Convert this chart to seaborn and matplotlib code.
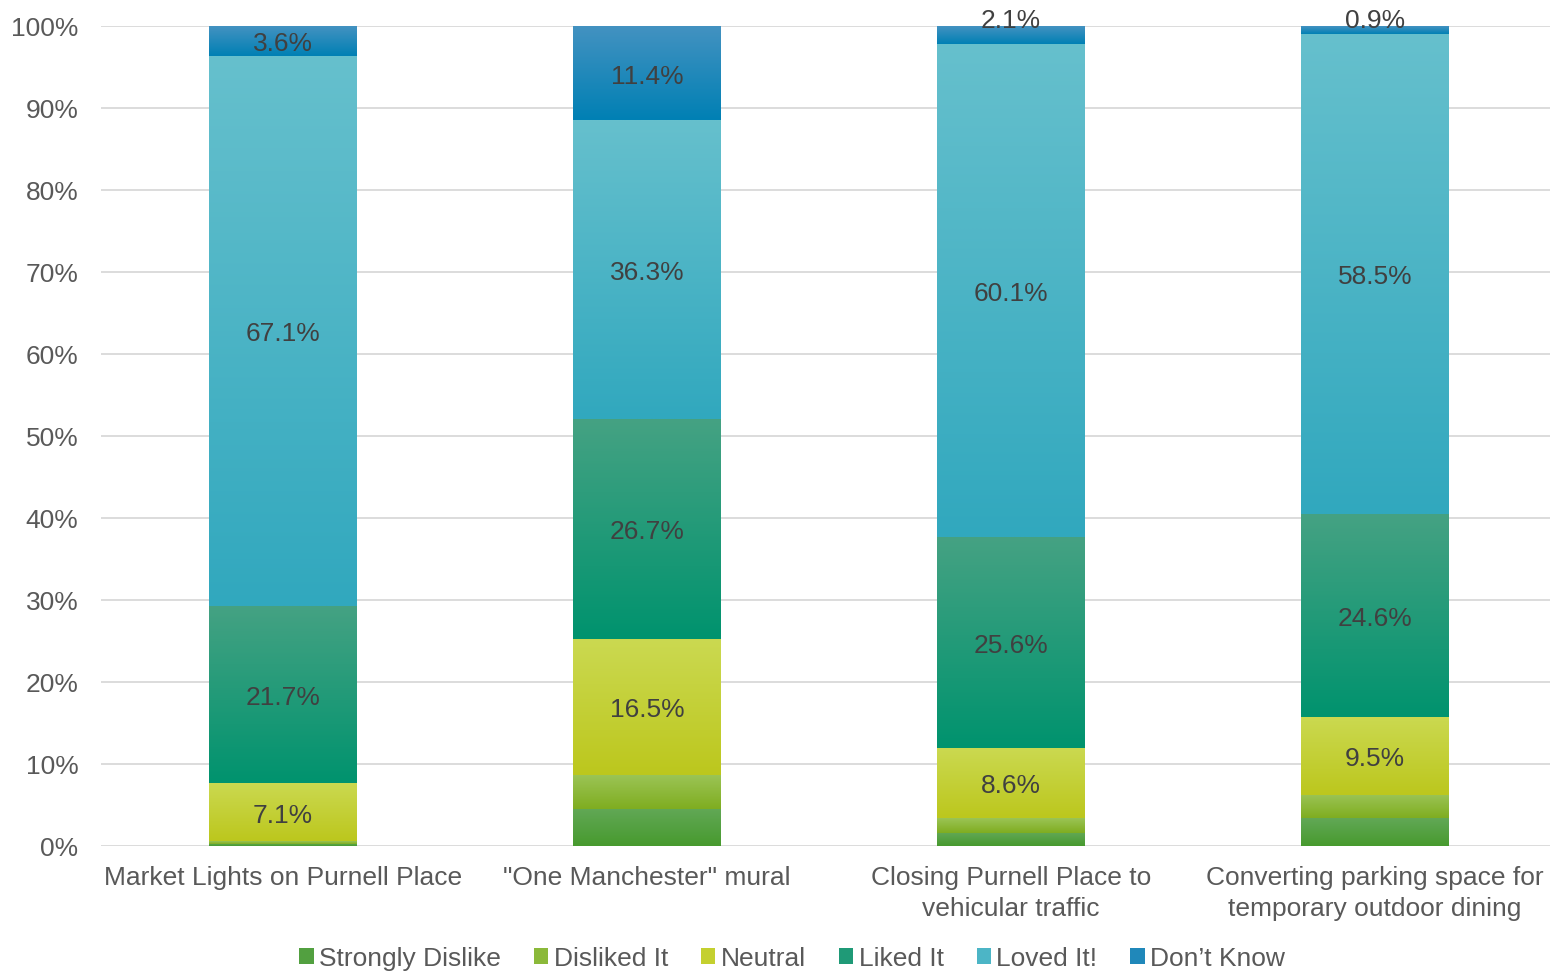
import numpy as np
import pandas as pd
import matplotlib
matplotlib.use("Agg")
import matplotlib.pyplot as plt
import seaborn as sns
from matplotlib.colors import LinearSegmentedColormap, to_rgb
from matplotlib.patches import Patch

categories = ["Market Lights on Purnell Place", "\"One Manchester\" mural",
              "Closing Purnell Place to\nvehicular traffic",
              "Converting parking space for\ntemporary outdoor dining"]
series = ["Strongly Dislike", "Disliked It", "Neutral", "Liked It", "Loved It!", "Don\u2019t Know"]
strongly_dislike = [0.3, 4.6, 1.6, 3.4]
disliked = [0.3, 4.1, 1.8, 2.9]
neutral = [7.1, 16.5, 8.6, 9.5]
liked = [21.7, 26.7, 25.6, 24.6]
loved = [67.1, 36.3, 60.1, 58.5]
dont_know = [3.6, 11.4, 2.1, 0.9]
values = [strongly_dislike, disliked, neutral, liked, loved, dont_know]
show_label = [False, False, True, True, True, True]

top_colors = ["#62A856", "#9BC455", "#CBD951", "#45A283", "#66C0CD", "#4392C1"]
bot_colors = ["#479A2E", "#7FAD20", "#BCC71D", "#00936E", "#31A8BE", "#0080B4"]
mid_colors = ["#52A040", "#8BB93A", "#C4D02F", "#1F9A77", "#4CB5C6", "#2088BA"]

sns.set_theme(style="white")
plt.rcParams["font.family"] = ["Liberation Sans", "DejaVu Sans"]

fig, ax = plt.subplots(figsize=(15.5, 9.74), dpi=100)
fig.subplots_adjust(left=0.065, right=1.0045, top=0.973, bottom=0.131)

arr = np.array(values)
pct = arr / arr.sum(axis=0) * 100.0  # 100% stacked
cum = np.cumsum(pct, axis=0)
df = pd.DataFrame({"cat": categories})
n = len(series)
for j, k in enumerate(range(n - 1, -1, -1)):
    df["v"] = cum[k]
    before = len(ax.patches)
    sns.barplot(data=df, x="cat", y="v", color=mid_colors[k], width=0.405,
                ax=ax, zorder=3 + 2 * j, saturation=1, edgecolor="none", linewidth=0)
    new = ax.patches[before:]
    cmap = LinearSegmentedColormap.from_list("g%d" % k, [to_rgb(bot_colors[k]), to_rgb(top_colors[k])])
    grad = np.linspace(0, 1, 256).reshape(-1, 1)
    for i, p in enumerate(new):
        x0 = p.get_x()
        x1 = x0 + p.get_width()
        lo = cum[k - 1][i] if k > 0 else 0.0
        hi = cum[k][i]
        im = ax.imshow(grad, cmap=cmap, origin="lower", aspect="auto",
                       extent=(x0, x1, lo, hi), zorder=3 + 2 * j + 1, interpolation="bilinear")
        im.set_clip_path(p)
        if show_label[k]:
            if hi - lo < 3:
                ypos = hi + 0.7
            else:
                ypos = (lo + hi) / 2 - 0.4
            ax.text(i, ypos, f"{values[k][i]:.1f}%", ha="center", va="center",
                    fontsize=19, color="#404040", zorder=50, clip_on=False)

ax.set_xlim(-0.5, 3.5)
ax.set_ylim(0, 100)
ax.set_yticks(np.arange(0, 101, 10))
ax.set_yticklabels([f"{t}%" for t in range(0, 101, 10)])
ax.yaxis.grid(True, color="#D9D9D9", linewidth=1.3, zorder=0)
ax.set_axisbelow(True)
for s in ax.spines.values():
    s.set_visible(False)
ax.tick_params(axis="y", length=0, labelsize=19, labelcolor="#595959", pad=16)
ax.tick_params(axis="x", length=0, labelsize=19, labelcolor="#595959", pad=14)
ax.set_xlabel("")
ax.set_ylabel("")
for lbl in ax.get_xticklabels():
    lbl.set_linespacing(1.35)

handles = [Patch(facecolor=mid_colors[k], edgecolor="none") for k in range(n)]
fig.legend(handles, series, loc="lower center", ncol=6, frameon=False,
           fontsize=19, labelcolor="#595959", bbox_to_anchor=(0.511, -0.021),
           handlelength=0.55, handleheight=0.55, handletextpad=0.2, columnspacing=1.25)

fig.savefig("out.png", dpi=100, facecolor="white")
